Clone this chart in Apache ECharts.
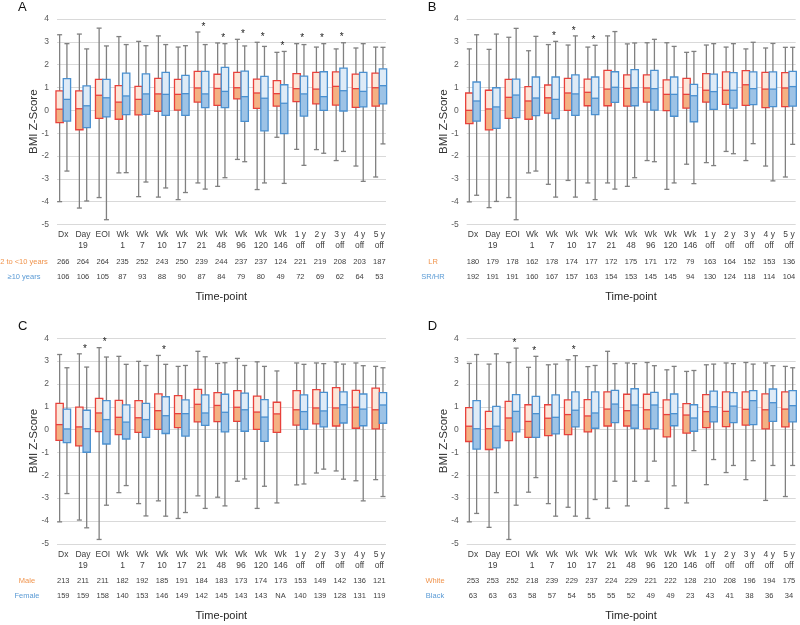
<!DOCTYPE html>
<html><head><meta charset="utf-8">
<script src="https://cdn.jsdelivr.net/npm/echarts@6/dist/echarts.min.js"></script>
<style>html,body{margin:0;padding:0;background:#fff}#c{width:800px;height:625px}</style>
</head><body><div id="c"></div>
<script>
const categories = ['Dx','Day\n19','EOI','Wk\n1','Wk\n7','Wk\n10','Wk\n17','Wk\n21','Wk\n48','Wk\n96','Wk\n120','Wk\n146','1 y\noff','2 y\noff','3 y\noff','4 y\noff','5 y\noff'];
const yTicks = [-5,-4,-3,-2,-1,0,1,2,3,4];

// each entry: [min, q1, median, q3, max]
const A_grp1 = [[-4.0,-0.54,0.05,0.85,3.31],[-4.28,-0.85,0.07,0.85,3.34],[-3.82,-0.35,0.66,1.36,3.6],[-2.74,-0.39,0.36,1.08,3.23],[-3.78,-0.2,0.48,1.05,3.02],[-3.8,-0.04,0.72,1.4,3.26],[-3.91,0.01,0.7,1.36,2.77],[-3.18,0.36,0.98,1.71,3.43],[-3.33,0.22,0.96,1.58,2.95],[-2.15,0.5,0.99,1.66,3.11],[-3.47,0.09,0.76,1.37,2.98],[-1.18,0.18,0.73,1.3,2.54],[-1.71,0.38,0.95,1.61,2.92],[-1.72,0.28,0.93,1.66,2.77],[-2.2,0.23,1.05,1.68,2.69],[-2.44,0.13,0.95,1.59,2.73],[-2.92,0.18,0.99,1.63,2.77]];
const A_grp2 = [[-2.66,-0.47,0.48,1.39,2.92],[-3.97,-0.76,0.2,1.07,2.69],[-4.79,-0.29,0.55,1.36,2.82],[-2.73,-0.19,0.63,1.63,2.88],[-3.14,-0.18,0.72,1.6,2.83],[-3.4,-0.22,0.7,1.66,2.88],[-3.6,-0.22,0.73,1.53,2.83],[-3.45,0.12,0.72,1.71,2.88],[-2.95,0.12,0.83,1.88,2.92],[-2.25,-0.48,0.6,1.72,2.82],[-3.18,-0.9,0.53,1.49,2.8],[-3.2,-1.02,0.31,1.12,2.58],[-2.41,-0.25,0.72,1.5,2.88],[-1.88,0.0,0.6,1.69,2.92],[-1.8,-0.03,0.86,1.85,2.96],[-3.11,0.15,0.83,1.66,2.92],[-1.47,0.28,1.08,1.82,2.76]];
const A_n1 = ['266','264','264','235','252','243','250','239','244','237','237','124','221','219','208','203','187'];
const A_n2 = ['106','106','105','87','93','88','90','87','84','79','80','49','72','69','62','64','53'];
const A_stars = [0,0,0,0,0,0,0,1,1,1,1,1,1,1,1,0,0];

const B_grp1 = [[-4.01,-0.58,0.0,0.76,2.69],[-4.26,-0.86,0.06,0.88,2.67],[-3.82,-0.35,0.57,1.36,3.2],[-2.74,-0.39,0.41,1.04,2.61],[-3.24,-0.12,0.55,1.11,2.88],[-3.07,0.0,0.76,1.4,2.86],[-3.18,0.2,0.79,1.37,2.77],[-3.18,0.2,0.93,1.75,3.26],[-3.33,0.18,0.96,1.55,2.91],[-2.2,0.36,0.98,1.55,2.96],[-3.46,-0.01,0.7,1.33,2.96],[-2.36,0.1,0.7,1.4,2.54],[-2.29,0.36,0.88,1.61,2.86],[-1.8,0.26,0.88,1.68,2.77],[-2.2,0.22,1.12,1.74,2.69],[-2.44,0.12,0.93,1.66,2.73],[-2.92,0.16,0.98,1.65,2.76]];
const B_grp2 = [[-3.72,-0.47,0.41,1.24,3.31],[-3.99,-0.79,0.15,0.99,3.34],[-4.79,-0.32,0.67,1.37,3.59],[-2.66,-0.23,0.54,1.46,3.24],[-3.8,-0.36,0.48,1.46,3.02],[-3.8,-0.22,0.72,1.55,3.26],[-3.91,-0.19,0.53,1.46,2.85],[-3.45,0.35,1.01,1.69,3.45],[-2.95,0.2,0.99,1.78,2.95],[-2.25,0.01,0.95,1.75,3.11],[-3.18,-0.26,0.7,1.46,2.8],[-3.21,-0.5,0.64,1.14,2.58],[-2.42,0.04,0.82,1.59,2.92],[-1.9,0.1,0.88,1.65,2.92],[-1.46,0.25,0.95,1.68,2.98],[-3.09,0.16,0.93,1.68,2.93],[-1.49,0.18,1.04,1.71,2.76]];
const B_n1 = ['180','179','178','162','178','174','177','172','175','171','172','79','163','164','152','153','136'];
const B_n2 = ['192','191','191','160','167','157','163','154','153','145','145','94','130','124','118','114','104'];
const B_stars = [0,0,0,0,1,1,1,0,0,0,0,0,0,0,0,0,0];

const C_grp1 = [[-4.04,-0.47,0.22,1.15,3.29],[-3.96,-0.71,0.12,0.99,3.32],[-4.81,-0.09,0.73,1.37,3.59],[-2.76,-0.22,0.54,1.28,3.21],[-3.24,-0.12,0.52,1.27,2.99],[-3.12,0.01,0.83,1.57,3.25],[-3.89,0.09,0.7,1.49,2.77],[-2.9,0.34,1.11,1.76,3.43],[-2.96,0.35,1.06,1.62,2.9],[-2.26,0.36,0.98,1.71,3.12],[-3.45,0.01,0.77,1.47,2.97],[-3.21,-0.12,0.69,1.2,2.57],[-2.42,0.2,0.87,1.71,2.92],[-1.9,0.25,0.95,1.75,2.92],[-1.81,0.16,0.95,1.84,2.96],[-2.24,0.06,0.98,1.72,2.92],[-2.19,0.03,0.87,1.82,2.77]];
const C_grp2 = [[-2.8,-0.57,0.03,0.9,2.71],[-4.3,-0.99,0.04,0.85,2.74],[-3.31,-0.63,0.44,1.27,3.18],[-2.45,-0.41,0.33,1.08,2.86],[-3.78,-0.34,0.44,1.15,2.81],[-3.79,-0.17,0.61,1.44,2.86],[-3.63,-0.28,0.7,1.3,2.81],[-3.45,0.19,0.73,1.52,3.19],[-3.34,-0.1,0.76,1.55,2.93],[-2.16,-0.07,0.87,1.6,2.81],[-2.48,-0.51,0.55,1.31,2.77],null,[-2.38,0.01,0.79,1.52,2.86],[-1.73,0.12,0.82,1.63,2.89],[-2.17,0.29,1.09,1.65,2.87],[-3.12,0.17,0.9,1.56,2.8],[-2.93,0.28,1.08,1.62,2.71]];
const C_n1 = ['213','211','211','182','192','185','191','184','183','173','174','173','153','149','142','136','121'];
const C_n2 = ['159','159','158','140','153','146','149','142','145','143','143','NA','140','139','128','131','119'];
const C_stars = [0,1,1,0,0,1,0,0,0,0,0,0,0,0,0,0,0];

const D_grp1 = [[-4.04,-0.52,0.15,0.96,2.9],[-4.28,-0.87,0.04,0.8,2.87],[-4.81,-0.48,0.51,1.24,2.94],[-2.74,-0.34,0.36,1.09,2.73],[-3.24,-0.26,0.5,1.09,2.84],[-3.4,-0.22,0.66,1.3,3.06],[-3.89,-0.1,0.6,1.31,2.76],[-3.44,0.16,0.9,1.65,3.43],[-3.34,0.16,0.83,1.55,2.92],[-2.26,0.03,0.87,1.55,2.94],[-3.45,-0.32,0.66,1.3,2.62],[-3.21,-0.15,0.64,1.14,2.55],[-2.41,0.09,0.79,1.53,2.84],[-1.88,0.13,0.8,1.65,2.92],[-2.19,0.2,0.89,1.65,2.94],[-3.1,0.03,0.87,1.57,2.92],[-2.93,0.12,0.9,1.65,2.77]];
const D_grp2 = [[-3.67,-0.85,0.04,1.27,3.29],[-2.76,-0.8,0.15,1.02,3.32],[-3.31,-0.1,0.8,1.53,3.57],[-2.1,-0.34,0.7,1.46,3.21],[-3.79,-0.19,0.54,1.52,2.87],[-3.79,0.12,0.85,1.65,3.24],[-3.06,0.06,0.73,1.65,2.81],[-2.26,0.31,1.12,1.72,2.89],[-2.26,0.06,1.08,1.79,2.89],[-1.38,0.04,1.08,1.63,2.8],[-2.46,0.17,0.7,1.56,2.77],[-0.92,-0.07,0.51,1.09,2.59],[-1.31,0.34,1.0,1.69,2.87],[-1.57,0.31,1.03,1.62,2.89],[-1.36,0.22,1.27,1.71,2.87],[-1.57,0.36,1.18,1.78,2.8],[-1.57,0.34,1.05,1.71,2.71]];
const D_n1 = ['253','253','252','218','239','229','237','224','229','221','222','128','210','208','196','194','175'];
const D_n2 = ['63','63','63','58','57','54','55','55','52','49','49','23','43','41','38','36','34'];
const D_stars = [0,0,1,1,0,1,0,0,0,0,0,0,0,0,0,0,0];

const panels = [
  {letter:'A', g1:A_grp1, g2:A_grp2, n1:A_n1, n2:A_n2, stars:A_stars, lab1:'2 to <10 years', lab2:'\u226510 years', ox:0, oy:0, labX:24},
  {letter:'B', g1:B_grp1, g2:B_grp2, n1:B_n1, n2:B_n2, stars:B_stars, lab1:'LR', lab2:'SR/HR', ox:409.7, oy:0, labX:433},
  {letter:'C', g1:C_grp1, g2:C_grp2, n1:C_n1, n2:C_n2, stars:C_stars, lab1:'Male', lab2:'Female', ox:0, oy:319.3, labX:27},
  {letter:'D', g1:D_grp1, g2:D_grp2, n1:D_n1, n2:D_n2, stars:D_stars, lab1:'White', lab2:'Black', ox:409.7, oy:319.3, labX:435}
];

const COL1 = {border:'#E8413B', low:'#F4B183', high:'#FCE6D8'};
const COL2 = {border:'#4A90D0', low:'#9DC3E6', high:'#DEEBF7'};
const WHISK = '#808080';

function makeRender(side, col){
  return function(params, api){
    const i = api.value(0);
    const mn = api.value(1), q1 = api.value(2), md = api.value(3), q3 = api.value(4), mx = api.value(5);
    const band = api.size([1,0])[0];
    const bw = band*0.37;
    const cx = api.coord([i,0])[0] + side*bw/2;
    const y = v => api.coord([i,v])[1];
    const cw = 5;
    const ls = {stroke: WHISK, lineWidth: 1.3};
    return {type:'group', children:[
      {type:'line', shape:{x1:cx,y1:y(mn),x2:cx,y2:y(mx)}, style:ls},
      {type:'line', shape:{x1:cx-cw/2,y1:y(mn),x2:cx+cw/2,y2:y(mn)}, style:ls},
      {type:'line', shape:{x1:cx-cw/2,y1:y(mx),x2:cx+cw/2,y2:y(mx)}, style:ls},
      {type:'rect', shape:{x:cx-bw/2,y:y(md),width:bw,height:y(q1)-y(md)}, style:{fill:col.low}},
      {type:'rect', shape:{x:cx-bw/2,y:y(q3),width:bw,height:y(md)-y(q3)}, style:{fill:col.high}},
      {type:'rect', shape:{x:cx-bw/2,y:y(q3),width:bw,height:y(q1)-y(q3)}, style:{fill:'none',stroke:col.border,lineWidth:1.3}},
      {type:'line', shape:{x1:cx-bw/2,y1:y(md),x2:cx+bw/2,y2:y(md)}, style:{stroke:col.border,lineWidth:1.3}}
    ]};
  };
}
function starRender(params, api){
  const p = api.coord([api.value(0), api.value(1)]);
  return {type:'text', x:p[0]+2, y:p[1]-5, style:{text:'*', fontSize:10, fontFamily:'Liberation Sans, Arial', fill:'#222', align:'center', verticalAlign:'middle'}};
}

const option = {animation:false, grid:[], xAxis:[], yAxis:[], series:[], graphic:[]};
const labelFont = 'Liberation Sans, Arial, sans-serif';

panels.forEach(p => {
  const ox = p.ox, oy = p.oy;
  const gi = option.grid.length;
  option.grid.push({left:53.4+ox, top:19+oy, width:335.8, height:205.5});
  option.grid.push({left:57+ox, top:19+oy, width:329, height:205.5});
  const xi = option.xAxis.length;
  option.xAxis.push({gridIndex:gi, type:'category', data:categories, axisLine:{show:false}, axisTick:{show:false}, splitLine:{show:false},
    axisLabel:{interval:0, margin:5, fontSize:8.5, lineHeight:11, color:'#404040', fontFamily:labelFont}});
  option.xAxis.push({gridIndex:gi, type:'category', data:categories, position:'bottom', axisLine:{show:false}, axisTick:{show:false},
    axisLabel:{interval:0, margin:33, fontSize:7.5, color:'#404040', fontFamily:labelFont, formatter:(v,idx)=>p.n1[idx]}});
  option.xAxis.push({gridIndex:gi, type:'category', data:categories, position:'bottom', axisLine:{show:false}, axisTick:{show:false},
    axisLabel:{interval:0, margin:48, fontSize:7.5, color:'#404040', fontFamily:labelFont, formatter:(v,idx)=>p.n2[idx]}});
  option.xAxis.push({gridIndex:gi+1, type:'value', show:false, min:0, max:1});
  const yi = option.yAxis.length;
  option.yAxis.push({gridIndex:gi, type:'value', min:yTicks[0], max:yTicks[yTicks.length-1], show:false});
  option.yAxis.push({gridIndex:gi+1, type:'value', min:yTicks[0], max:yTicks[yTicks.length-1], interval:1,
    axisLine:{show:false}, axisTick:{show:false}, splitLine:{show:true, lineStyle:{color:'#D9D9D9', width:1}},
    axisLabel:{margin:8, fontSize:8.5, color:'#595959', fontFamily:labelFont}});
  const d1 = [], d2 = [], ds = [];
  p.g1.forEach((v,i) => { if (v) d1.push([i].concat(v)); });
  p.g2.forEach((v,i) => { if (v) d2.push([i].concat(v)); });
  p.stars.forEach((s,i) => {
    if (s) {
      const m = Math.max(p.g1[i] ? p.g1[i][4] : -99, p.g2[i] ? p.g2[i][4] : -99);
      ds.push([i, m]);
    }
  });
  option.series.push({type:'custom', xAxisIndex:xi, yAxisIndex:yi, renderItem:makeRender(-1, COL1), data:d1, encode:{x:0, y:[1,2,3,4,5]}, z:3});
  option.series.push({type:'custom', xAxisIndex:xi, yAxisIndex:yi, renderItem:makeRender(1, COL2), data:d2, encode:{x:0, y:[1,2,3,4,5]}, z:3});
  option.series.push({type:'custom', xAxisIndex:xi, yAxisIndex:yi, renderItem:starRender, data:ds, encode:{x:0, y:1}, z:4});

  option.graphic.push({type:'text', left:18+ox, top:1+oy, style:{text:p.letter, fontSize:13, fontFamily:labelFont, fill:'#111'}});
  option.graphic.push({type:'text', x:34+ox, y:121.7+oy, rotation:Math.PI/2, style:{text:'BMI Z-Score', fontSize:11.5, fontFamily:labelFont, fill:'#333', align:'center', verticalAlign:'middle'}});
  option.graphic.push({type:'text', x:p.labX+ox*0, y:262+oy, style:{text:p.lab1, fontSize:7.5, fontFamily:labelFont, fill:'#F0944D', align:'center', verticalAlign:'middle'}});
  option.graphic.push({type:'text', x:p.labX+ox*0, y:277+oy, style:{text:p.lab2, fontSize:7.5, fontFamily:labelFont, fill:'#5B9BD5', align:'center', verticalAlign:'middle'}});
  option.graphic.push({type:'text', x:221.3+ox, y:297+oy, style:{text:'Time-point', fontSize:11, fontFamily:labelFont, fill:'#262626', align:'center', verticalAlign:'middle'}});
});

const chart = echarts.init(document.getElementById('c'), null, {renderer:'canvas'});
chart.setOption(option);
</script>
</body></html>
